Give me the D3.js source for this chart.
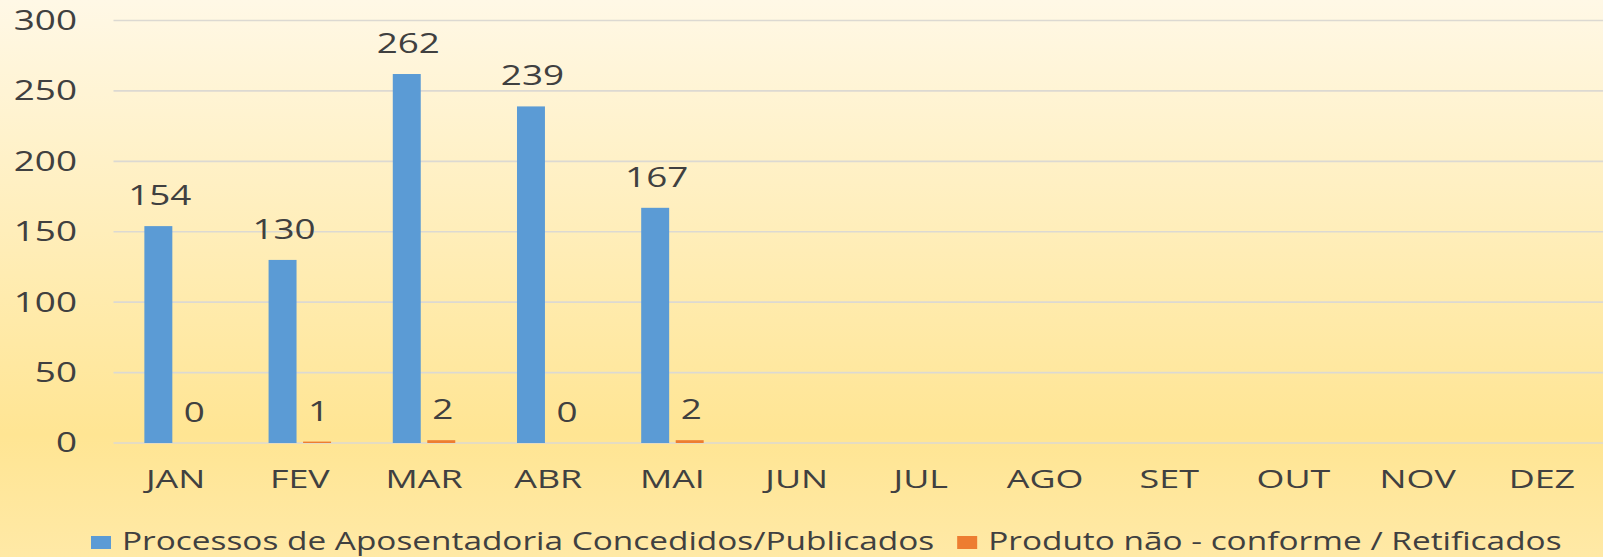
<!DOCTYPE html>
<meta charset="utf-8">
<html>
  <head>
    <title>Aposentadorias</title>
    <style>
      html,body{
        margin:0;
        padding:0;
        overflow:hidden;
      }
      text{
        font-family: 'Open Sans', 'DejaVu Sans', sans-serif;
        fill: #404040;
      }
      .grid line{
        stroke: #dcd9d2;
        stroke-width: 1.6px;
      }
    </style>
  </head>
  <body>
    <svg xmlns="http://www.w3.org/2000/svg"></svg>

    <script src="https://d3js.org/d3.v7.min.js"></script>
    <script type="text/javascript">
      var width = 1603, height = 557;

      // data
      var months = ['JAN','FEV','MAR','ABR','MAI','JUN','JUL','AGO','SET','OUT','NOV','DEZ'];
      var concedidos = [154, 130, 262, 239, 167];
      var retificados = [0, 1, 2, 0, 2];
      var seriesNames = ['Processos de Aposentadoria Concedidos/Publicados', 'Produto não - conforme / Retificados'];
      var seriesColors = ['#5b9bd5', '#ed7d31'];
      var yTicks = [0, 50, 100, 150, 200, 250, 300];

      var svg = d3.select('svg')
        .attr('width', width)
        .attr('height', height);

      // background gradient
      var grad = svg.append('defs').append('linearGradient')
        .attr('id', 'bg')
        .attr('x1', 0).attr('y1', 0).attr('x2', 0).attr('y2', 1);
      grad.append('stop').attr('offset', '0%').attr('stop-color', '#fff8e6');
      grad.append('stop').attr('offset', '78%').attr('stop-color', '#ffe593');
      grad.append('stop').attr('offset', '100%').attr('stop-color', '#ffe9a6');

      svg.append('rect')
        .attr('width', width)
        .attr('height', height)
        .attr('fill', 'url(#bg)');

      var plotLeft = 113.5, plotRight = 1604;

      var x0 = d3.scaleBand()
        .domain(months)
        .range([plotLeft, plotRight])
        .paddingInner(0.497)
        .paddingOuter(0.2485);

      var x1 = d3.scaleBand()
        .domain([0, 1])
        .range([0, x0.bandwidth()])
        .paddingInner(0.19);

      var y = d3.scaleLinear()
        .domain([0, 300])
        .range([443, 20.5]);

      // gridlines
      svg.append('g')
        .attr('class', 'grid')
        .selectAll('line')
        .data(yTicks).enter()
        .append('line')
          .attr('x1', plotLeft)
          .attr('x2', plotRight)
          .attr('y1', function(d){ return y(d); })
          .attr('y2', function(d){ return y(d); });

      // the text in the picture is stretched sideways, so scale it around its anchor
      function stretched(sel, size, sx){
        sel.style('font-size', size + 'px')
          .attr('transform', function(){
            var t = d3.select(this);
            var ax = +t.attr('x'), ay = +t.attr('y');
            return 'translate(' + ax + ',' + ay + ') scale(' + sx + ',1) translate(' + (-ax) + ',' + (-ay) + ')';
          });
      }

      // y axis labels
      svg.append('g')
        .selectAll('text')
        .data(yTicks).enter()
        .append('text')
          .attr('x', 77)
          .attr('y', function(d){ return y(d) + 9.5; })
          .attr('text-anchor', 'end')
          .text(function(d){ return d; })
          .call(stretched, 26.5, 1.39);

      // month labels
      svg.append('g')
        .selectAll('text')
        .data(months).enter()
        .append('text')
          .attr('x', function(d){ return x0(d) + x0.bandwidth() / 2; })
          .attr('y', 488)
          .attr('text-anchor', 'middle')
          .text(function(d){ return d; })
          .call(stretched, 25.8, 1.39);

      // bars
      [concedidos, retificados].forEach(function(values, s){
        var g = svg.append('g');
        g.selectAll('rect')
          .data(values).enter()
          .append('rect')
            .attr('x', function(d, i){ return x0(months[i]) + x1(s); })
            .attr('width', x1.bandwidth())
            .attr('y', function(d){ return y(d); })
            .attr('height', function(d){ return y(0) - y(d); })
            .attr('fill', seriesColors[s]);

        g.selectAll('text')
          .data(values).enter()
          .append('text')
            .attr('x', function(d, i){ return x0(months[i]) + x1(s) + x1.bandwidth() / 2 + 1.5; })
            .attr('y', function(d){ return y(d) - 21; })
            .attr('text-anchor', 'middle')
            .text(function(d){ return d; })
            .call(stretched, 26.5, 1.39);
      });

      // legend
      var legend = svg.append('g');
      var lx = 91, lsx = 1.325;
      seriesNames.forEach(function(name, s){
        legend.append('rect')
          .attr('x', lx)
          .attr('y', 536)
          .attr('width', 20)
          .attr('height', 13)
          .attr('fill', seriesColors[s]);
        var t = legend.append('text')
          .attr('x', lx + 31)
          .attr('y', 550)
          .text(name)
          .call(stretched, 25.2, lsx);
        lx = lx + 31 + t.node().getComputedTextLength() * lsx + 23;
      });
    </script>
  </body>
</html>
